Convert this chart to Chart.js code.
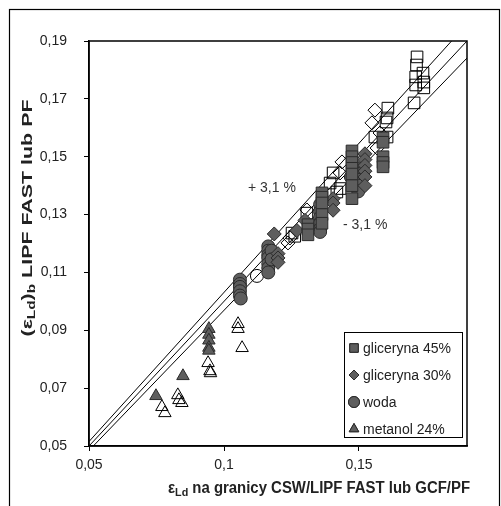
<!DOCTYPE html>
<html>
<head>
<meta charset="utf-8">
<script src="https://cdn.jsdelivr.net/npm/chart.js@4/dist/chart.umd.min.js"></script>
<style>
  html, body { margin: 0; padding: 0; background: #fff; }
  canvas { display: block; }
</style>
</head>
<body>
<canvas id="chart" width="501" height="506"></canvas>
<script>
// Tick values
const xTicks = [0.05, 0.1, 0.15];
const yTicks = [0.05, 0.07, 0.09, 0.11, 0.13, 0.15, 0.17, 0.19];

// Legend labels
const seriesNames = ['gliceryna 45%', 'gliceryna 30%', 'woda', 'metanol 24%'];

// Filled markers (in legend): [x, y]
const glic45 = [
  [0.1311, 0.1265], [0.1311, 0.125], [0.1311, 0.123],
  [0.1363, 0.1375], [0.1363, 0.136], [0.1363, 0.134], [0.1363, 0.130], [0.1363, 0.127],
  [0.1474, 0.152], [0.1474, 0.150], [0.1474, 0.148], [0.1474, 0.146], [0.1474, 0.144], [0.1474, 0.140], [0.1474, 0.1355],
  [0.1589, 0.1565], [0.1589, 0.155], [0.1589, 0.150], [0.1589, 0.148], [0.1589, 0.1465]
];
const glic30 = [
  [0.1186, 0.1233], [0.1200, 0.1165], [0.1200, 0.115], [0.1200, 0.1135],
  [0.1270, 0.1245], [0.1300, 0.128],
  [0.1404, 0.1355], [0.1404, 0.134], [0.1404, 0.1315],
  [0.1522, 0.151], [0.1522, 0.149], [0.1522, 0.147], [0.1522, 0.145], [0.1522, 0.143], [0.1522, 0.140]
];
const woda = [
  [0.1059, 0.1075], [0.1059, 0.106], [0.1059, 0.105], [0.1059, 0.1035], [0.1059, 0.102], [0.1062, 0.101],
  [0.1164, 0.119], [0.1164, 0.1175], [0.1164, 0.116], [0.1164, 0.115], [0.1164, 0.113], [0.1164, 0.1115], [0.1164, 0.110],
  [0.1176, 0.1175], [0.1176, 0.1145],
  [0.1356, 0.1335], [0.1356, 0.131], [0.1356, 0.129], [0.1356, 0.127], [0.1356, 0.125], [0.1356, 0.124],
  [0.1497, 0.146], [0.1497, 0.144], [0.1497, 0.142], [0.1497, 0.140], [0.1497, 0.138], [0.1470, 0.143]
];
const metanol = [
  [0.0748, 0.0673], [0.0848, 0.0742],
  [0.0944, 0.0905], [0.0944, 0.0885], [0.0944, 0.0865], [0.0944, 0.084], [0.0944, 0.083]
];

// Open markers (not in legend): [x, y]
const glic45Open = [
  [0.1715, 0.1845], [0.1713, 0.1817], [0.1710, 0.1776], [0.1710, 0.1748], [0.1737, 0.1789],
  [0.1740, 0.1758], [0.1740, 0.1738], [0.1704, 0.1686],
  [0.1607, 0.1668], [0.1604, 0.1634], [0.1600, 0.1620], [0.1559, 0.1568], [0.1604, 0.1568],
  [0.1404, 0.1444], [0.1393, 0.1409], [0.1418, 0.1378], [0.1430, 0.1390],
  [0.1307, 0.1305], [0.1252, 0.1236], [0.1262, 0.1225]
];
const glic30Open = [
  [0.1559, 0.1661], [0.1548, 0.1617], [0.1578, 0.1582], [0.1567, 0.153],
  [0.1437, 0.1482], [0.1430, 0.1444], [0.1307, 0.1316], [0.1244, 0.1219], [0.1237, 0.1202]
];
const wodaOpen = [
  [0.1122, 0.1088]
];
const metanolOpen = [
  [0.0770, 0.0635], [0.0781, 0.0614], [0.0829, 0.0676], [0.0833, 0.0659], [0.0844, 0.0649],
  [0.0941, 0.0787], [0.0948, 0.0759], [0.0950, 0.0752],
  [0.1052, 0.0922], [0.1052, 0.0905], [0.1067, 0.0839]
];

// Reference lines y = k * x  (0 %, +3,1 %, -3,1 %)
const lineX = [0.05, 0.19];
const lineFactors = [1, 1.031, 0.969];

const FILL = '#5e5e5e';
const EDGE = '#2b2b2b';
const FONT = '"Liberation Sans", Arial, sans-serif';

function pts(arr) {
  return arr.map(p => ({ x: p[0], y: p[1] }));
}

function marker(label, data, style, radius, filled) {
  return {
    label: label,
    data: pts(data),
    pointStyle: style,
    pointRadius: radius,
    pointHoverRadius: radius,
    backgroundColor: filled ? FILL : 'rgba(0,0,0,0)',
    borderColor: filled ? EDGE : '#000',
    borderWidth: 1
  };
}

const datasets = [
  marker(seriesNames[0], glic45, 'rect', 8.2, true),
  marker(seriesNames[1], glic30, 'rectRot', 7, true),
  marker(seriesNames[2], woda, 'circle', 6.5, true),
  marker(seriesNames[3], metanol, 'triangle', 7.2, true),
  marker('', glic45Open, 'rect', 8.2, false),
  marker('', glic30Open, 'rectRot', 7, false),
  marker('', wodaOpen, 'circle', 6.5, false),
  marker('', metanolOpen, 'triangle', 7.2, false)
];
lineFactors.forEach(k => {
  datasets.push({
    label: '',
    data: lineX.map(x => ({ x: x, y: k * x })),
    showLine: true,
    pointRadius: 0,
    borderColor: '#000',
    borderWidth: 1,
    fill: false
  });
});

function fmt(v) {
  return String(+v.toFixed(2)).replace('.', ',');
}

// draw bold text made of normal and subscript parts, centred on (cx, cy),
// stretched horizontally to the given width when one is passed
function drawRich(ctx, parts, cx, cy, size, width) {
  let total = 0;
  parts.forEach(p => {
    ctx.font = 'bold ' + (p.sub ? size * 0.72 : size) + 'px ' + FONT;
    p.w = ctx.measureText(p.t).width;
    total += p.w;
  });
  const sx = width ? width / total : 1;
  ctx.save();
  ctx.translate(cx, cy);
  ctx.scale(sx, 1);
  let x = -total / 2;
  ctx.textBaseline = 'middle';
  ctx.textAlign = 'left';
  parts.forEach(p => {
    ctx.font = 'bold ' + (p.sub ? size * 0.72 : size) + 'px ' + FONT;
    ctx.fillText(p.t, x, p.sub ? size * 0.25 : 0);
    x += p.w;
  });
  ctx.restore();
}

const decorPlugin = {
  id: 'decor',
  beforeDraw(chart) {
    const ctx = chart.ctx;
    ctx.save();
    ctx.fillStyle = '#fff';
    ctx.fillRect(0, 0, chart.width, chart.height);
    ctx.strokeStyle = '#000';
    ctx.lineWidth = 1.2;
    ctx.strokeRect(9.5, 9.5, 490, 520);
    ctx.restore();
  },
  afterDraw(chart) {
    const ctx = chart.ctx;
    const a = chart.chartArea;
    ctx.save();
    // plot frame
    ctx.strokeStyle = '#000';
    ctx.lineWidth = 1.5;
    ctx.strokeRect(a.left, a.top, a.right - a.left, a.bottom - a.top);

    // percentage labels
    ctx.fillStyle = '#333';
    ctx.font = '14px ' + FONT;
    ctx.textBaseline = 'middle';
    ctx.textAlign = 'left';
    ctx.fillText('+ 3,1 %', 248, 188);
    ctx.fillText('- 3,1 %', 343, 225);

    // legend
    const lx = 344, ly = 332, lw = 118, lh = 105;
    ctx.fillStyle = '#fff';
    ctx.fillRect(lx, ly, lw, lh);
    ctx.strokeStyle = '#000';
    ctx.lineWidth = 1;
    ctx.strokeRect(lx + 0.5, ly + 0.5, lw, lh);
    const sizes = [6, 5, 5.5, 5.5];
    seriesNames.forEach((name, i) => {
      const ds = chart.data.datasets[i];
      const y = ly + 16 + i * 27;
      ctx.fillStyle = FILL;
      ctx.strokeStyle = EDGE;
      ctx.lineWidth = 1;
      Chart.helpers.drawPoint(ctx, { pointStyle: ds.pointStyle, radius: sizes[i], borderWidth: 1 }, lx + 10, y);
      ctx.fill();
      ctx.stroke();
      ctx.fillStyle = '#222';
      ctx.font = '14px ' + FONT;
      ctx.textAlign = 'left';
      ctx.textBaseline = 'middle';
      ctx.fillText(name, lx + 19, y + 1);
    });

    // axis titles
    ctx.fillStyle = '#222';
    drawRich(ctx, [
      { t: 'ε' }, { t: 'Ld', sub: true }, { t: ' na granicy CSW/LIPF FAST lub GCF/PF' }
    ], 319, 489, 16, 302);
    ctx.translate(28, 218);
    ctx.rotate(-Math.PI / 2);
    drawRich(ctx, [
      { t: '(ε' }, { t: 'Ld', sub: true }, { t: ')' }, { t: 'b', sub: true }, { t: ' LIPF FAST lub PF' }
    ], 0, 0, 15.5, 237);
    ctx.restore();
  }
};

new Chart(document.getElementById('chart'), {
  type: 'scatter',
  data: { datasets: datasets },
  options: {
    responsive: false,
    animation: false,
    layout: { padding: { left: 0, top: 41, right: 34, bottom: 0 } },
    plugins: {
      legend: { display: false },
      tooltip: { enabled: false }
    },
    scales: {
      x: {
        type: 'linear',
        min: 0.05,
        max: 0.19,
        afterBuildTicks: s => { s.ticks = xTicks.map(v => ({ value: v })); },
        afterFit: s => { s.height = 60; },
        grid: { display: true, drawOnChartArea: false, color: '#000', tickLength: 5 },
        border: { color: '#000', width: 1.5 },
        ticks: {
          color: '#222',
          font: { family: FONT, size: 14 },
          padding: 6,
          maxRotation: 0,
          callback: v => fmt(v)
        }
      },
      y: {
        type: 'linear',
        min: 0.05,
        max: 0.19,
        afterBuildTicks: s => { s.ticks = yTicks.map(v => ({ value: v })); },
        afterFit: s => { s.width = 89; },
        grid: { display: true, drawOnChartArea: false, color: '#000', tickLength: 5 },
        border: { color: '#000', width: 1.5 },
        ticks: {
          color: '#222',
          font: { family: FONT, size: 14 },
          padding: 17,
          callback: v => fmt(v)
        }
      }
    }
  },
  plugins: [decorPlugin]
});
</script>
</body>
</html>
